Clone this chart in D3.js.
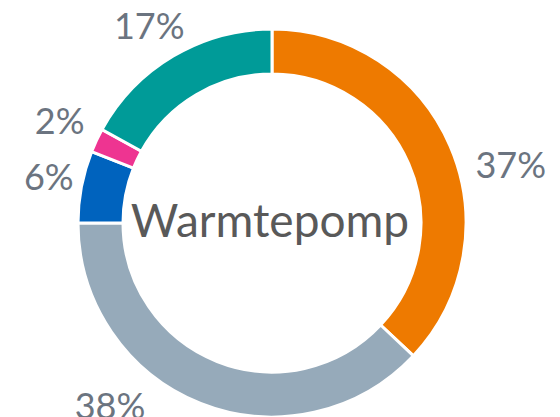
<!DOCTYPE html>
<html>
<head>
<meta charset="utf-8">
<script src="https://cdn.jsdelivr.net/npm/d3@7"></script>
<style>
  body { margin: 0; background: #fff; }
  text { font-family: Lato, "Open Sans", sans-serif; }
</style>
</head>
<body>
<script>
// chart data, clockwise from 12 o'clock
var categories = ["a", "b", "c", "d", "e"];
var values = [37, 38, 6, 2, 17];
var percentLabels = ["37%", "38%", "6%", "2%", "17%"];
var title = "Warmtepomp";

var colors = ["#ee7a00", "#96aaba", "#0063be", "#ee3491", "#009b98"];
// label placement tweaks (degrees shift, radius) - the big slices sit off their mid-angle
var labelNudge = [[9.5, 246], [20, 244], [1, 228], [0.7, 236], [-1.2, 233]];

var svgWidth = 560;
var svgHeight = 417;
var cx = 272, cy = 223;
var outerR = 194, innerR = 149;

var svg = d3.select("body")
  .append("svg")
  .attr("width", svgWidth)
  .attr("height", svgHeight);

var chartGroup = svg.append("g")
  .attr("transform", `translate(${cx}, ${cy})`);

var pie = d3.pie()
  .sort(null)
  .value(d => d.value);

var data = categories.map((c, i) => ({ cat: c, value: values[i], label: percentLabels[i], i: i }));
var arcs = pie(data);

var arc = d3.arc()
  .innerRadius(innerR)
  .outerRadius(outerR);

chartGroup.selectAll("path.slice")
  .data(arcs)
  .enter()
  .append("path")
  .attr("class", "slice")
  .attr("d", arc)
  .attr("fill", d => colors[d.data.i])
  .attr("stroke", "#fff")
  .attr("stroke-width", 3);

// percentage labels around the ring
chartGroup.selectAll("text.pct")
  .data(arcs)
  .enter()
  .append("text")
  .attr("class", "pct")
  .attr("x", d => {
    var n = labelNudge[d.data.i];
    var a = (d.startAngle + d.endAngle) / 2 + n[0] * Math.PI / 180;
    return Math.sin(a) * n[1];
  })
  .attr("y", d => {
    var n = labelNudge[d.data.i];
    var a = (d.startAngle + d.endAngle) / 2 + n[0] * Math.PI / 180;
    return -Math.cos(a) * n[1];
  })
  .attr("text-anchor", "middle")
  .attr("dominant-baseline", "central")
  .attr("font-size", 36)
  .attr("fill", "#6b7480")
  .text(d => d.data.label);

// title in the hole
chartGroup.append("text")
  .attr("x", -2)
  .attr("y", 14)
  .attr("text-anchor", "middle")
  .attr("font-size", 46)
  .attr("fill", "#595959")
  .text(title);
</script>
</body>
</html>
